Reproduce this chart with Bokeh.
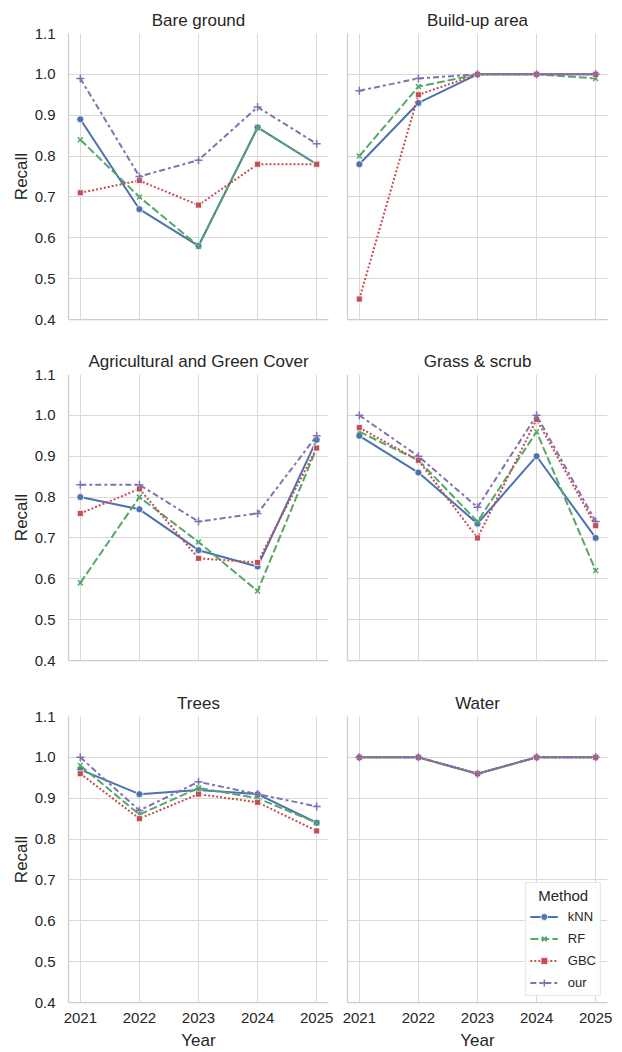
from bokeh.plotting import figure
from bokeh.layouts import column, row
from bokeh.models import Range1d, FixedTicker, PrintfTickFormatter, Legend, LegendItem
from bokeh.embed import file_html
from bokeh.resources import INLINE

# ---------------- data ----------------
years = [2021, 2022, 2023, 2024, 2025]
methods = ["kNN", "RF", "GBC", "our"]
class_names = ["Bare ground", "Build-up area", "Agricultural and Green Cover",
               "Grass & scrub", "Trees", "Water"]
y_ticks = [0.4, 0.5, 0.6, 0.7, 0.8, 0.9, 1.0, 1.1]

bare_ground = {
    "kNN": [0.89, 0.67, 0.58, 0.87, 0.78],
    "RF":  [0.84, 0.70, 0.58, 0.87, 0.78],
    "GBC": [0.71, 0.74, 0.68, 0.78, 0.78],
    "our": [0.99, 0.75, 0.79, 0.92, 0.83],
}
build_up_area = {
    "kNN": [0.78, 0.93, 1.00, 1.00, 1.00],
    "RF":  [0.80, 0.97, 1.00, 1.00, 0.99],
    "GBC": [0.45, 0.95, 1.00, 1.00, 1.00],
    "our": [0.96, 0.99, 1.00, 1.00, 1.00],
}
agricultural = {
    "kNN": [0.80, 0.77, 0.67, 0.63, 0.94],
    "RF":  [0.59, 0.80, 0.69, 0.57, 0.92],
    "GBC": [0.76, 0.82, 0.65, 0.64, 0.92],
    "our": [0.83, 0.83, 0.74, 0.76, 0.95],
}
grass_scrub = {
    "kNN": [0.95, 0.86, 0.735, 0.90, 0.70],
    "RF":  [0.96, 0.89, 0.74, 0.96, 0.62],
    "GBC": [0.97, 0.89, 0.70, 0.99, 0.73],
    "our": [1.00, 0.90, 0.775, 1.00, 0.74],
}
trees = {
    "kNN": [0.97, 0.91, 0.92, 0.91, 0.84],
    "RF":  [0.98, 0.86, 0.925, 0.90, 0.84],
    "GBC": [0.96, 0.85, 0.91, 0.89, 0.82],
    "our": [1.00, 0.87, 0.94, 0.91, 0.88],
}
water = {
    "kNN": [1.00, 1.00, 0.96, 1.00, 1.00],
    "RF":  [1.00, 1.00, 0.96, 1.00, 1.00],
    "GBC": [1.00, 1.00, 0.96, 1.00, 1.00],
    "our": [1.00, 1.00, 0.96, 1.00, 1.00],
}
panels = [bare_ground, build_up_area, agricultural, grass_scrub, trees, water]

# ---------------- styles ----------------
colors = {"kNN": "#4C72B0", "RF": "#55A868", "GBC": "#C44E52", "our": "#8172B2"}
dashes = {"kNN": "solid", "RF": "8 3", "GBC": "2 2", "our": "6 3 3 3"}
FONT = "Liberation Sans"
TXT = "#262626"
GRID = "#d9d9d9"
SPINE = "#cccccc"


def add_series(p, name, ys):
    c = colors[name]
    lr = p.line(years, ys, line_color=c, line_width=2, line_dash=dashes[name])
    if name == "kNN":
        sr = p.scatter(years, ys, marker="circle", size=7, fill_color=c,
                       line_color="white", line_width=0.75)
    elif name == "RF":
        sr = p.scatter(years, ys, marker="x", size=7, line_color=c, line_width=1.5)
    elif name == "GBC":
        sr = p.scatter(years, ys, marker="square", size=6, fill_color=c,
                       line_color="white", line_width=0.75)
    else:
        sr = p.scatter(years, ys, marker="cross", size=8, line_color=c, line_width=1.5)
    return lr, sr


figs = []
top_borders = [33, 28, 28]
bottom_borders = [26, 27, 51]
for i, (title, data) in enumerate(zip(class_names, panels)):
    col = i % 2
    r = i // 2
    left = col == 0
    bottom = r == 2
    p = figure(frame_width=260, frame_height=286,
               x_range=Range1d(2020.8, 2025.2), y_range=Range1d(0.4, 1.1),
               output_backend="svg", toolbar_location=None, title=title,
               min_border_left=68 if left else 9,
               min_border_right=10 if left else 14,
               min_border_top=top_borders[r], min_border_bottom=bottom_borders[r])
    p.outline_line_color = None
    p.background_fill_color = "white"
    p.border_fill_color = "white"

    p.title.text_font = FONT
    p.title.text_font_size = "17px"
    p.title.text_font_style = "normal"
    p.title.text_color = TXT
    p.title.align = "center"
    p.title.standoff = 8

    p.xaxis.ticker = FixedTicker(ticks=years if bottom else [])
    p.yaxis.ticker = FixedTicker(ticks=y_ticks if left else [])
    p.xgrid.ticker = FixedTicker(ticks=years)
    p.ygrid.ticker = FixedTicker(ticks=y_ticks)
    p.xaxis.formatter = PrintfTickFormatter(format="%d")
    p.yaxis.formatter = PrintfTickFormatter(format="%.1f")
    for ax in (p.xaxis[0], p.yaxis[0]):
        ax.major_tick_out = 0
        ax.major_tick_in = 0
        ax.minor_tick_out = 0
        ax.minor_tick_in = 0
        ax.axis_line_color = SPINE
        ax.axis_line_width = 1.25
        ax.major_label_text_font = FONT
        ax.major_label_text_font_size = "15px"
        ax.major_label_text_color = TXT
        ax.axis_label_text_font = FONT
        ax.axis_label_text_font_size = "17px"
        ax.axis_label_text_font_style = "normal"
        ax.axis_label_text_color = TXT

    if left:
        p.yaxis.axis_label = "Recall"
        p.yaxis.major_label_standoff = 13
        p.yaxis.axis_label_standoff = 1
    else:
        p.yaxis.major_label_standoff = 0
    if bottom:
        p.xaxis.axis_label = "Year"
        p.xaxis.major_label_standoff = 10
        p.xaxis.axis_label_standoff = 5
    else:
        p.xaxis.major_label_standoff = 0

    p.xgrid.grid_line_color = GRID
    p.ygrid.grid_line_color = GRID
    p.xgrid.grid_line_width = 1
    p.ygrid.grid_line_width = 1

    rends = {}
    for m in methods:
        rends[m] = add_series(p, m, data[m])

    if i == 5:
        items = [LegendItem(label=m, renderers=list(rends[m])) for m in methods]
        legend = Legend(items=items, location="bottom_right",
                        title="\u00a0\u00a0Method",
                        margin=6, padding=4, spacing=5, glyph_width=28,
                        glyph_height=17, label_height=17, label_width=20,
                        label_standoff=10, title_standoff=4,
                        label_text_font=FONT, label_text_font_size="13px",
                        label_text_color=TXT, title_text_font=FONT,
                        title_text_font_size="15px", title_text_font_style="normal",
                        title_text_color=TXT,
                        border_line_color=SPINE,
                        border_line_width=1, background_fill_color="white",
                        background_fill_alpha=0.9)
        p.add_layout(legend)
    figs.append(p)

layout = column(row(figs[0], figs[1]), row(figs[2], figs[3]), row(figs[4], figs[5]))

open("out.html", "w").write(file_html(layout, INLINE))
